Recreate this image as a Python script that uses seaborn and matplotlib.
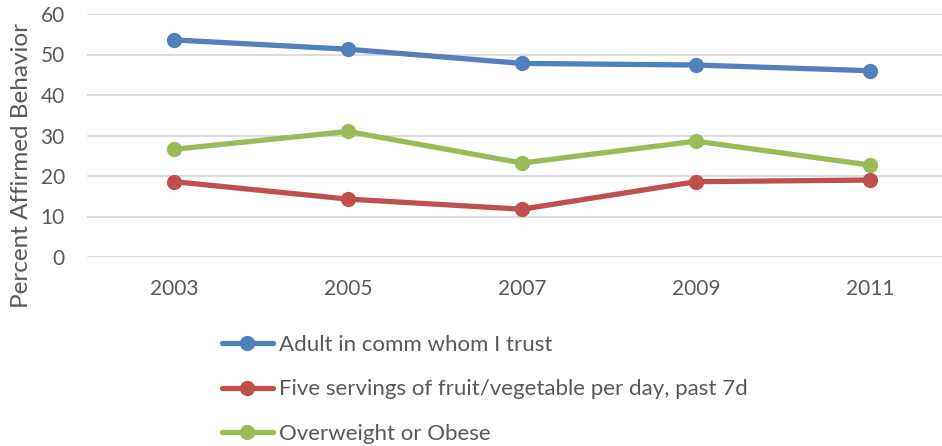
import matplotlib
matplotlib.use("Agg")
import matplotlib.pyplot as plt
import seaborn as sns
import pandas as pd

years = ["2003", "2005", "2007", "2009", "2011"]
series_names = ["Adult in comm whom I trust",
                "Five servings of fruit/vegetable per day, past 7d",
                "Overweight or Obese"]
adult_trust = [53.6, 51.3, 47.8, 47.4, 46.0]
five_servings = [18.6, 14.3, 11.8, 18.6, 19.0]
overweight = [26.6, 31.0, 23.2, 28.6, 22.7]
colors = ["#4F81BD", "#C0504D", "#9BBB59"]
yticks = [0, 10, 20, 30, 40, 50, 60]

rows = []
for name, vals in zip(series_names, [adult_trust, five_servings, overweight]):
    for i, (yr, v) in enumerate(zip(years, vals)):
        rows.append({"pos": i, "Year": yr, "Series": name, "Value": v})
df = pd.DataFrame(rows)

sns.set_theme(style="white")
plt.rcParams["font.family"] = ["Lato", "DejaVu Sans"]
text_color = "#595959"

fig = plt.figure(figsize=(9.42, 4.46), dpi=100)
ax = fig.add_axes([87/942, 1 - 257/446, (942 - 87)/942, (257 - 14)/446])

sns.lineplot(data=df, x="pos", y="Value", hue="Series", palette=colors,
             marker="o", markersize=11, linewidth=3.8, markeredgewidth=0,
             ax=ax, legend=True)

ax.set_xlim(-0.5, 4.414)
ax.set_ylim(0, 60)
ax.set_yticks(yticks)
ax.set_xticks(range(len(years)))
ax.set_xticklabels(years)
ax.grid(axis="y", color="#D9D9D9", linewidth=1.3)
ax.grid(axis="x", visible=False)
for s in ax.spines.values():
    s.set_visible(False)
ax.tick_params(axis="both", length=0, labelsize=15, colors=text_color)
ax.tick_params(axis="x", pad=16)
ax.tick_params(axis="y", pad=16)
ax.set_xlabel("")
ax.set_ylabel("Percent Affirmed Behavior", fontsize=17.5, color=text_color)
ax.yaxis.set_label_coords(-55/855, 0.375)

handles, labels = ax.get_legend_handles_labels()
ax.get_legend().remove()
fig.legend(handles, labels, loc="upper left",
           bbox_to_anchor=(213/942, 1 - 326/446), frameon=False,
           fontsize=16, labelcolor=text_color, handlelength=2.3,
           handletextpad=0.25, labelspacing=1.1, borderaxespad=0)

fig.savefig("out.png", dpi=100)
